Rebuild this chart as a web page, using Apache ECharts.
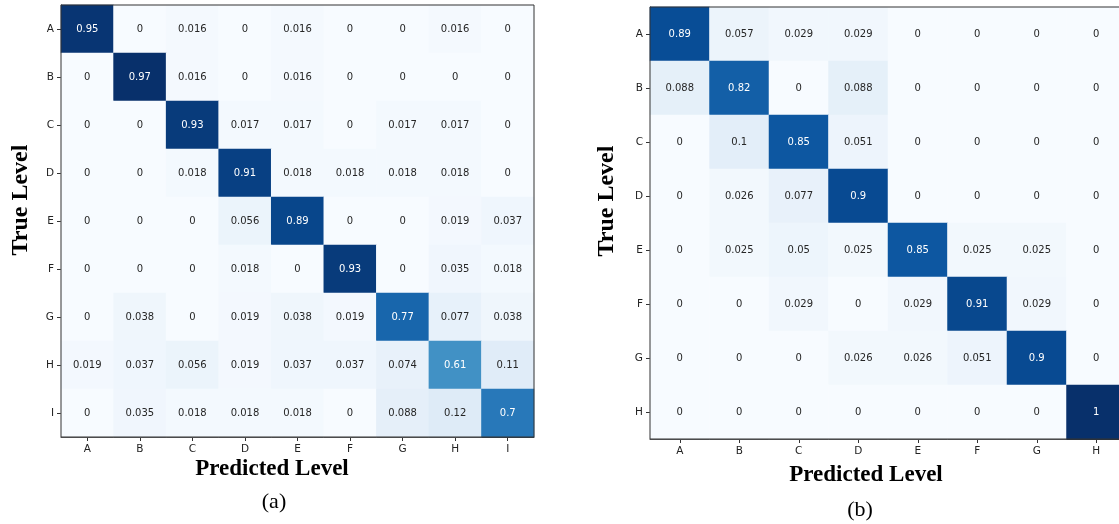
<!DOCTYPE html>
<html>
<head>
<meta charset="utf-8">
<script src="https://cdn.jsdelivr.net/npm/echarts@6/dist/echarts.min.js"></script>
<style>
html,body{margin:0;padding:0;background:#fff;}
#chart{width:1119px;height:524px;}
</style>
</head>
<body>
<div id="chart"></div>
<script>
// ---- data ----
const levelsA = ['A','B','C','D','E','F','G','H','I'];
const levelsB = ['A','B','C','D','E','F','G','H'];

// rows = true level (top to bottom), columns = predicted level
const matrixA = [
  [0.95, 0, 0.016, 0, 0.016, 0, 0, 0.016, 0],
  [0, 0.97, 0.016, 0, 0.016, 0, 0, 0, 0],
  [0, 0, 0.93, 0.017, 0.017, 0, 0.017, 0.017, 0],
  [0, 0, 0.018, 0.91, 0.018, 0.018, 0.018, 0.018, 0],
  [0, 0, 0, 0.056, 0.89, 0, 0, 0.019, 0.037],
  [0, 0, 0, 0.018, 0, 0.93, 0, 0.035, 0.018],
  [0, 0.038, 0, 0.019, 0.038, 0.019, 0.77, 0.077, 0.038],
  [0.019, 0.037, 0.056, 0.019, 0.037, 0.037, 0.074, 0.61, 0.11],
  [0, 0.035, 0.018, 0.018, 0.018, 0, 0.088, 0.12, 0.7]
];
const matrixB = [
  [0.89, 0.057, 0.029, 0.029, 0, 0, 0, 0],
  [0.088, 0.82, 0, 0.088, 0, 0, 0, 0],
  [0, 0.1, 0.85, 0.051, 0, 0, 0, 0],
  [0, 0.026, 0.077, 0.9, 0, 0, 0, 0],
  [0, 0.025, 0.05, 0.025, 0.85, 0.025, 0.025, 0],
  [0, 0, 0.029, 0, 0.029, 0.91, 0.029, 0],
  [0, 0, 0, 0.026, 0.026, 0.051, 0.9, 0],
  [0, 0, 0, 0, 0, 0, 0, 1]
];
const xTitle = 'Predicted Level';
const yTitle = 'True Level';
const captions = ['(a)', '(b)'];

// ---- build ----
const blues = ['#f7fbff','#deebf7','#c6dbef','#9ecae1','#6baed6','#4292c6','#2171b5','#08519c','#08306b'];

function toData(m) {
  let mx = 0;
  m.forEach(r => r.forEach(v => { if (v > mx) mx = v; }));
  const out = [];
  m.forEach((row, i) => row.forEach((v, j) => {
    out.push({ value: [j, i, v], label: { color: v > mx / 2 ? '#ffffff' : '#262626' } });
  }));
  return { data: out, max: mx };
}
const dA = toData(matrixA);
const dB = toData(matrixB);

const axisCommonX = {
  type: 'category',
  axisLine: { show: true, lineStyle: { color: '#333', width: 1 } },
  axisTick: { show: true, alignWithLabel: true, length: 4, lineStyle: { color: '#333' } },
  axisLabel: { color: '#222', fontFamily: 'DejaVu Sans', fontSize: 10.5, margin: 7 },
  splitLine: { show: false },
  splitArea: { show: false }
};
const axisCommonY = Object.assign({}, axisCommonX, { inverse: true });

const labelStyle = {
  show: true,
  fontFamily: 'DejaVu Sans',
  fontSize: 10,
  formatter: p => String(p.value[2])
};

const chart = echarts.init(document.getElementById('chart'), null, { renderer: 'canvas' });
chart.setOption({
  backgroundColor: '#ffffff',
  animation: false,
  grid: [
    { left: 61, top: 5, width: 473, height: 432, outerBoundsMode: 'none', containLabel: false, show: true, z: 5, backgroundColor: 'transparent', borderColor: '#333', borderWidth: 1 },
    { left: 650, top: 7, width: 476, height: 432, outerBoundsMode: 'none', containLabel: false, show: true, z: 5, backgroundColor: 'transparent', borderColor: '#333', borderWidth: 1 }
  ],
  xAxis: [
    Object.assign({}, axisCommonX, { gridIndex: 0, data: levelsA }),
    Object.assign({}, axisCommonX, { gridIndex: 1, data: levelsB })
  ],
  yAxis: [
    Object.assign({}, axisCommonY, { gridIndex: 0, data: levelsA }),
    Object.assign({}, axisCommonY, { gridIndex: 1, data: levelsB })
  ],
  visualMap: [
    { show: false, type: 'continuous', seriesIndex: 0, dimension: 2, min: 0, max: dA.max, inRange: { color: blues } },
    { show: false, type: 'continuous', seriesIndex: 1, dimension: 2, min: 0, max: dB.max, inRange: { color: blues } }
  ],
  series: [
    { type: 'heatmap', xAxisIndex: 0, yAxisIndex: 0, data: dA.data, label: labelStyle, itemStyle: { borderWidth: 0 }, emphasis: { disabled: true } },
    { type: 'heatmap', xAxisIndex: 1, yAxisIndex: 1, data: dB.data, label: labelStyle, itemStyle: { borderWidth: 0 }, emphasis: { disabled: true } }
  ],
  graphic: [
    { type: 'text', x: 272, y: 469, style: { text: xTitle, font: 'bold 23px "Liberation Serif"', fill: '#000', textAlign: 'center', textVerticalAlign: 'middle' } },
    { type: 'text', x: 274, y: 502, style: { text: captions[0], font: '22px "Liberation Serif"', fill: '#000', textAlign: 'center', textVerticalAlign: 'middle' } },
    { type: 'text', x: 21, y: 200, rotation: Math.PI / 2, style: { text: yTitle, font: 'bold 24px "Liberation Serif"', fill: '#000', textAlign: 'center', textVerticalAlign: 'middle' } },
    { type: 'text', x: 866, y: 475, style: { text: xTitle, font: 'bold 23px "Liberation Serif"', fill: '#000', textAlign: 'center', textVerticalAlign: 'middle' } },
    { type: 'text', x: 860, y: 510, style: { text: captions[1], font: '22px "Liberation Serif"', fill: '#000', textAlign: 'center', textVerticalAlign: 'middle' } },
    { type: 'text', x: 607, y: 201, rotation: Math.PI / 2, style: { text: yTitle, font: 'bold 24px "Liberation Serif"', fill: '#000', textAlign: 'center', textVerticalAlign: 'middle' } }
  ]
});
</script>
</body>
</html>
